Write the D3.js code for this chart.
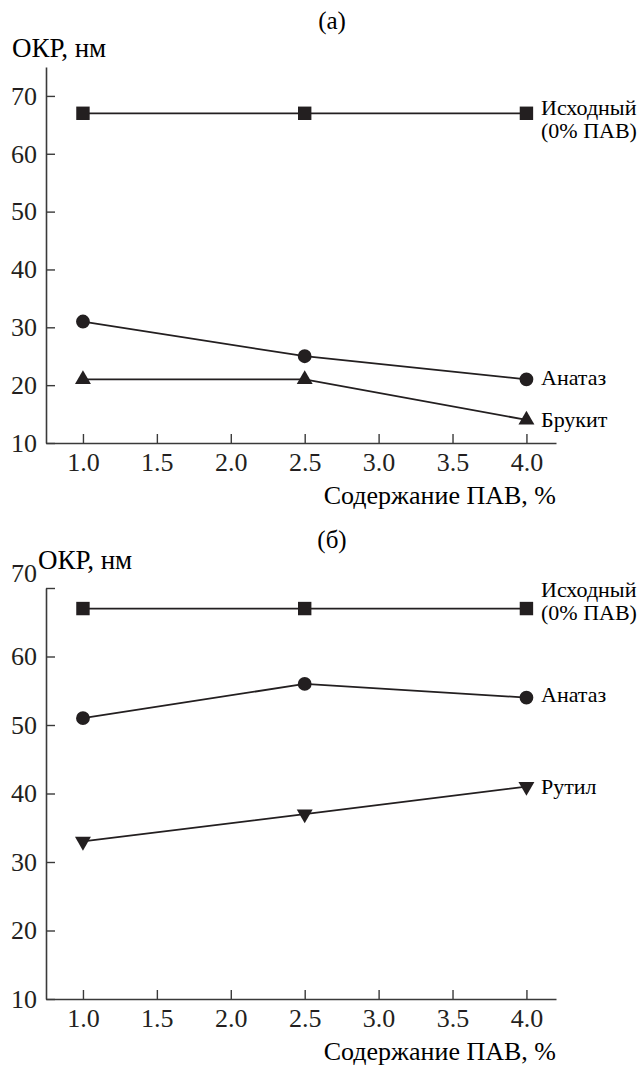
<!DOCTYPE html>
<html><head><meta charset="utf-8"><script src="https://cdn.jsdelivr.net/npm/d3@7"></script></head>
<body style="margin:0">
<svg id="chart" width="640" height="1066"></svg>
<script>
// ---- data ----
const xValues = [1.0, 2.5, 4.0];
const xTicks = [1.0, 1.5, 2.0, 2.5, 3.0, 3.5, 4.0];
const yTicks = [10, 20, 30, 40, 50, 60, 70];

const panelTitles = ["(a)", "(б)"];
const yAxisTitle = "ОКР, нм";
const xAxisTitle = "Содержание ПАВ, %";

const aInitial = [67, 67, 67];
const aAnatase = [31, 25, 21];
const aBrookite = [21, 21, 14];

const bInitial = [67, 67, 67];
const bAnatase = [51, 56, 54];
const bRutile = [33, 37, 41];

const labelInitial = ["Исходный", "(0% ПАВ)"];
const labelAnatase = "Анатаз";
const labelBrookite = "Брукит";
const labelRutile = "Рутил";

// ---- drawing ----
const ink = "#231f20";
const FONT = "Liberation Serif";
const svg = d3.select("#chart");

const xScale = d3.scaleLinear().domain([0.75, 4.2]).range([46, 556]);

function txt(g, size) {
  return g.append("text").attr("font-family", FONT).attr("font-size", size);
}

function drawPanel(cfg) {
  const g = svg.append("g");
  const y = d3.scaleLinear().domain([10, cfg.yTop]).range([cfg.yBottom, cfg.yTopPx]);

  txt(g, 25).attr("x", 332).attr("y", cfg.titleY).attr("text-anchor", "middle").text(cfg.title);
  txt(g, 27).attr("x", cfg.yTitleX).attr("y", cfg.yTitleY).text(yAxisTitle);

  const yAxis = g.append("g").attr("transform", "translate(46,0)")
    .call(d3.axisLeft(y).tickValues(yTicks).tickFormat(d3.format("d"))
      .tickSizeInner(-9).tickSizeOuter(0).tickPadding(9));
  const xAxis = g.append("g").attr("transform", `translate(0,${cfg.yBottom})`)
    .call(d3.axisBottom(xScale).tickValues(xTicks).tickFormat(d3.format(".1f"))
      .tickSizeInner(-9).tickSizeOuter(0).tickPadding(10));

  [yAxis, xAxis].forEach(ax => {
    ax.attr("font-family", FONT).attr("font-size", 26);
    ax.select(".domain").attr("stroke", "#3a3a3a").attr("stroke-width", 1.6);
    ax.selectAll(".tick line").attr("stroke", "#3a3a3a").attr("stroke-width", 1.4);
    ax.selectAll(".tick text").attr("fill", ink).attr("font-family", FONT);
  });
  if (cfg.raiseTop) {
    yAxis.selectAll(".tick text").filter(d => d === 70).attr("dy", "-0.25em");
  }

  txt(g, 26).attr("x", 556).attr("y", cfg.yBottom + 61).attr("text-anchor", "end").text(xAxisTitle);

  const line = d3.line().x((d, i) => xScale(xValues[i])).y(d => y(d));

  cfg.series.forEach(s => {
    g.append("path").datum(s.values).attr("d", line)
      .attr("fill", "none").attr("stroke", ink).attr("stroke-width", 1.8);
    g.selectAll(null).data(s.values).enter().append("path")
      .attr("d", d3.symbol().type(s.symbol).size(s.size)())
      .attr("transform", (d, i) => `translate(${xScale(xValues[i])},${y(d)})${s.rotate ? " rotate(180)" : ""}`)
      .attr("fill", ink);
    const last = s.values[s.values.length - 1];
    const lines = Array.isArray(s.label) ? s.label : [s.label];
    lines.forEach((t, k) => {
      txt(g, 22).attr("x", 541).attr("y", y(last) + s.labelDy + k * 23).text(t);
    });
  });
}

drawPanel({
  title: panelTitles[0], titleY: 29,
  yTitleX: 12, yTitleY: 57,
  yTop: 75, yTopPx: 67, yBottom: 443,
  raiseTop: false,
  series: [
    { values: aInitial, symbol: d3.symbolSquare, size: 180, label: labelInitial, labelDy: 2 },
    { values: aAnatase, symbol: d3.symbolCircle, size: 150, label: labelAnatase, labelDy: 6 },
    { values: aBrookite, symbol: d3.symbolTriangle, size: 110, label: labelBrookite, labelDy: 7 }
  ]
});

drawPanel({
  title: panelTitles[1], titleY: 548,
  yTitleX: 38, yTitleY: 569,
  yTop: 70, yTopPx: 588, yBottom: 999,
  raiseTop: true,
  series: [
    { values: bInitial, symbol: d3.symbolSquare, size: 180, label: labelInitial, labelDy: -12 },
    { values: bAnatase, symbol: d3.symbolCircle, size: 150, label: labelAnatase, labelDy: 4 },
    { values: bRutile, symbol: d3.symbolTriangle, size: 110, rotate: true, label: labelRutile, labelDy: 7 }
  ]
});
</script>
</body>
</html>
